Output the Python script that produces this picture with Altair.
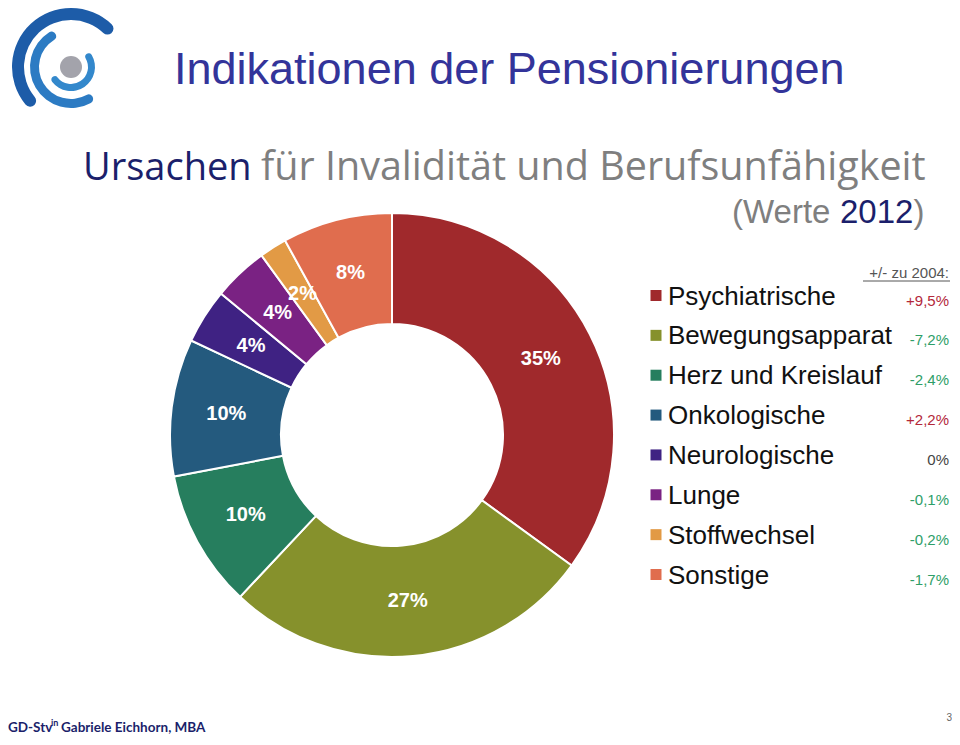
import math
import altair as alt
import pandas as pd

# ---------------- data ----------------
categories = ["Psychiatrische", "Bewegungsapparat", "Herz und Kreislauf", "Onkologische",
              "Neurologische", "Lunge", "Stoffwechsel", "Sonstige"]
shares = [35, 27, 10, 10, 4, 4, 2, 8]
changes = ["+9,5%", "-7,2%", "-2,4%", "+2,2%", "0%", "-0,1%", "-0,2%", "-1,7%"]
slice_colors = ["#A0292C", "#86912C", "#267E5E", "#245A7E", "#3F2283", "#7A2283", "#E29A45", "#E06D4E"]

POS_COL, NEG_COL, ZERO_COL = "#B3283A", "#2E9E68", "#444444"


def change_color(s):
    if s.startswith("+"):
        return POS_COL
    if s.startswith("-"):
        return NEG_COL
    return ZERO_COL


df = pd.DataFrame({
    "cat": categories,
    "share": shares,
    "label": [f"{v}%" for v in shares],
    "idx": list(range(len(categories))),
    "change": changes,
    "ccol": [change_color(c) for c in changes],
})
one = pd.DataFrame({"k": [0]})

FONT = "Liberation Sans"
CX, CY = 384, 427

color_scale = alt.Scale(domain=categories, range=slice_colors)

donut = alt.Chart(df).mark_arc(innerRadius=111, outerRadius=222, stroke="white", strokeWidth=2).encode(
    theta=alt.Theta("share:Q", stack=True),
    color=alt.Color("cat:N", scale=color_scale, legend=None),
    order=alt.Order("idx:Q"),
    x=alt.value(CX), y=alt.value(CY),
)

slice_labels = alt.Chart(df).mark_text(radius=167, fontSize=20, fontWeight="bold", font=FONT,
                                       color="white", baseline="middle", align="center").encode(
    theta=alt.Theta("share:Q", stack=True),
    order=alt.Order("idx:Q"),
    detail="cat:N",
    text="label:N",
    x=alt.value(CX), y=alt.value(CY),
)

ys = alt.Y("cat:N", scale=alt.Scale(domain=categories, range=[287.5, 566.5], padding=0), axis=None)

leg_sq = alt.Chart(df).mark_square(size=121, opacity=1, filled=True).encode(
    x=alt.value(648), y=ys,
    color=alt.Color("cat:N", scale=color_scale, legend=None),
)
leg_txt = alt.Chart(df).mark_text(align="left", baseline="alphabetic", dy=9, fontSize=26,
                                  font=FONT, color="#111111").encode(
    x=alt.value(660), y=ys, text="cat:N")
chg_txt = alt.Chart(df).mark_text(align="right", baseline="alphabetic", dy=10, fontSize=15,
                                  font=FONT).encode(
    x=alt.value(941), y=ys, text="change:N", fill=alt.Fill("ccol:N", scale=None))


def txt(s, x, y, size, color, font=FONT, weight="normal", align="left"):
    return alt.Chart(one).mark_text(text=s, align=align, baseline="alphabetic", fontSize=size,
                                    font=font, fontWeight=weight, color=color).encode(
        x=alt.value(x), y=alt.value(y))


NAVY = "#1B1F6B"
GRAY = "#7F7F7F"

title = txt("Indikationen der Pensionierungen", 166, 76, 45, "#33349A")
sub1 = txt("Ursachen", 75, 172, 38, NAVY, font="Open Sans")
sub2 = txt("für Invalidität und Berufsunfähigkeit", 253, 172, 39.5, GRAY, font="Open Sans")
w1 = txt("(Werte ", 724, 215, 33, GRAY)
w2 = txt("2012", 832, 215, 33, NAVY)
w3 = txt(")", 905.5, 215, 33, GRAY)
hdr = txt("+/- zu 2004:", 941, 270, 15, "#555555", align="right")
hdr_line = alt.Chart(one).mark_rule(color="#555555", strokeWidth=1).encode(
    x=alt.value(855), x2=alt.value(942), y=alt.value(273))

foot1 = txt("GD-Stv", 0, 724, 13.5, NAVY, font="Lato", weight="bold")
foot2 = txt("in", 43, 718, 9, NAVY, font="Lato", weight="bold")
foot3 = txt("Gabriele Eichhorn, MBA", 53, 724, 13.5, NAVY, font="Lato", weight="bold")
pnum = txt("3", 944, 713, 10, "#666666", align="right")


def logo_arc(t1, t2, r1, r2, c, cr):
    return alt.Chart(one).mark_arc(theta=math.radians(t1), theta2=math.radians(t2), innerRadius=r1,
                                   outerRadius=r2, cornerRadius=cr, color=c).encode(
        x=alt.value(63), y=alt.value(59))


logo = [
    logo_arc(224, 410, 47, 59, "#1D5CA8", 6),
    logo_arc(144, 335, 32, 41, "#2C7BC3", 4.5),
    logo_arc(50, 242, 17, 24, "#3388CC", 3.5),
    logo_arc(0, 360, 0, 11, "#A3A3AB", 0),
]

chart = alt.layer(
    *logo, title, sub1, sub2, w1, w2, w3, hdr, hdr_line,
    donut, slice_labels, leg_sq, leg_txt, chg_txt,
    foot1, foot2, foot3, pnum,
).properties(
    width=944, height=729, padding=0, autosize=alt.AutoSizeParams(type="none"),
    background="white",
).configure_view(strokeWidth=0)

chart.save("out.html", embed_options={"renderer": "svg", "actions": False})
